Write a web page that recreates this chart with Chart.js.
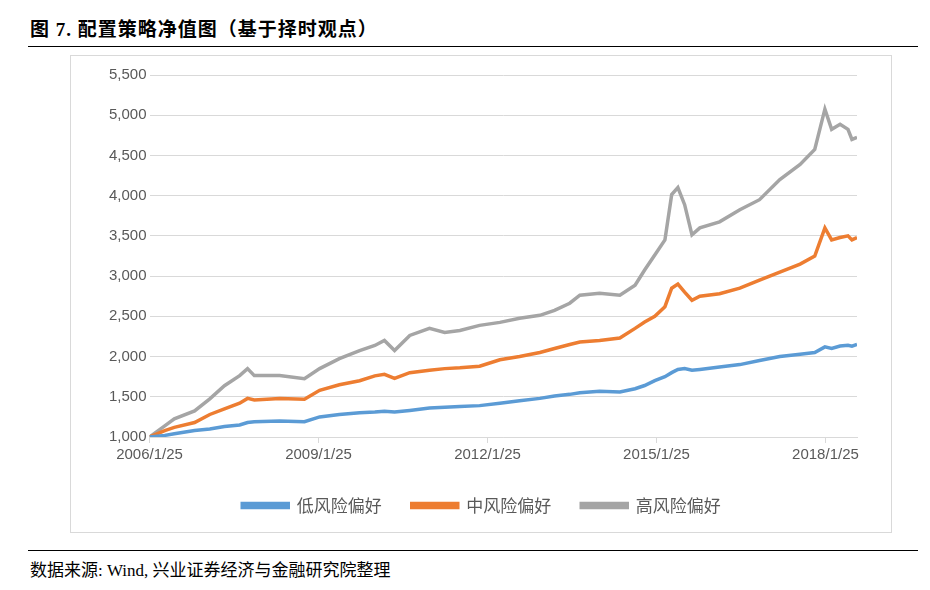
<!DOCTYPE html>
<html>
<head>
<meta charset="utf-8">
<script src="https://cdn.jsdelivr.net/npm/chart.js@4"></script>
<style>
  body { margin: 0; width: 930px; height: 590px; background: #fff; font-family: "Liberation Serif", "Noto Sans CJK SC", serif; }
  #title { position: absolute; left: 30px; top: 14px; font-size: 19px; font-weight: bold; letter-spacing: 1px; }
  #topline { position: absolute; left: 28px; top: 46px; width: 890px; border-top: 1px solid #000; }
  #box { position: absolute; left: 70px; top: 55px; width: 820px; height: 476px; border: 1px solid #d9d9d9; }
  #bottomline { position: absolute; left: 28px; top: 550px; width: 890px; border-top: 1px solid #000; }
  #source { position: absolute; left: 30px; top: 556px; font-size: 17px; }
</style>
</head>
<body>
<div id="title">图 7. 配置策略净值图（基于择时观点）</div>
<div id="topline"></div>
<div id="box"><canvas id="chart" width="820" height="476"></canvas></div>
<div id="bottomline"></div>
<div id="source">数据来源: Wind, 兴业证券经济与金融研究院整理</div>
<script>
// Dates as fractional years
const years = [2006.07, 2006.34, 2006.51, 2006.87, 2007.14, 2007.40, 2007.67, 2007.81, 2007.93, 2008.38,
  2008.82, 2009.09, 2009.44, 2009.80, 2010.07, 2010.24, 2010.42, 2010.69, 2011.04, 2011.31,
  2011.58, 2011.93, 2012.29, 2012.64, 2013.00, 2013.26, 2013.53, 2013.71, 2014.06, 2014.42,
  2014.69, 2014.86, 2015.04, 2015.22, 2015.34, 2015.45, 2015.57, 2015.70, 2015.84, 2016.19,
  2016.55, 2016.90, 2017.26, 2017.62, 2017.88, 2018.06, 2018.18, 2018.33, 2018.47, 2018.54, 2018.63];

const lowRisk = [1000, 1020, 1040, 1080, 1100, 1130, 1150, 1180, 1190, 1200,
  1190, 1250, 1280, 1300, 1310, 1320, 1310, 1330, 1360, 1370,
  1380, 1390, 1420, 1450, 1480, 1510, 1530, 1550, 1570, 1560,
  1600, 1640, 1700, 1750, 1800, 1840, 1850, 1830, 1840, 1870,
  1900, 1950, 2000, 2030, 2050, 2120, 2100, 2130, 2140, 2130, 2150];

const midRisk = [1000, 1080, 1120, 1180, 1280, 1350, 1420, 1480, 1460, 1480,
  1470, 1580, 1650, 1700, 1760, 1780, 1730, 1800, 1830, 1850,
  1860, 1880, 1960, 2000, 2050, 2100, 2150, 2180, 2200, 2230,
  2350, 2430, 2500, 2620, 2850, 2900, 2800, 2700, 2750, 2780,
  2850, 2950, 3050, 3150, 3250, 3600, 3450, 3480, 3500, 3450, 3480];

const highRisk = [1000, 1138, 1225, 1325, 1475, 1638, 1763, 1850, 1763, 1763,
  1725, 1850, 1975, 2075, 2138, 2200, 2075, 2263, 2350, 2300,
  2325, 2388, 2425, 2475, 2513, 2575, 2663, 2763, 2788, 2763,
  2888, 3075, 3263, 3450, 4013, 4100, 3888, 3513, 3600, 3675,
  3825, 3950, 4200, 4388, 4575, 5075, 4825, 4888, 4825, 4700, 4725];

const tickYears = [2006.07, 2009.07, 2012.07, 2015.07, 2018.07];

function toPoints(values) {
  return years.map((y, i) => ({ x: y, y: values[i] }));
}

const chart = new Chart(document.getElementById("chart"), {
  type: "line",
  data: {
    datasets: [
      { label: "低风险偏好", data: toPoints(lowRisk), borderColor: "#5b9bd5", backgroundColor: "#5b9bd5" },
      { label: "中风险偏好", data: toPoints(midRisk), borderColor: "#ed7d31", backgroundColor: "#ed7d31" },
      { label: "高风险偏好", data: toPoints(highRisk), borderColor: "#a5a5a5", backgroundColor: "#a5a5a5" },
    ],
  },
  options: {
    responsive: false,
    animation: false,
    layout: { padding: { left: 35, right: 34, top: 19, bottom: 8 } },
    elements: { point: { radius: 0 }, line: { borderWidth: 3.5, tension: 0 } },
    plugins: {
      legend: {
        position: "bottom",
        labels: { boxWidth: 46, boxHeight: 4, padding: 30, color: "#595959", font: { size: 17, family: "Noto Sans CJK SC" } },
      },
      tooltip: { enabled: false },
    },
    scales: {
      x: {
        type: "linear",
        min: 2006.07,
        max: 2018.63,
        afterBuildTicks: (axis) => { axis.ticks = tickYears.map(v => ({ value: v })); },
        ticks: {
          color: "#595959",
          font: { size: 15, family: "Liberation Sans" },
          maxRotation: 0,
          callback: (v) => Math.round(v - 0.07) + "/1/25",
        },
        grid: { display: true, drawOnChartArea: false, tickLength: 6, color: "#d9d9d9" },
        border: { color: "#d9d9d9" },
      },
      y: {
        min: 1000,
        max: 5500,
        ticks: { stepSize: 500, color: "#595959", font: { size: 15, family: "Liberation Sans" },
          callback: (v) => v.toLocaleString("en-US") },
        grid: { color: "#d9d9d9", drawTicks: false },
        border: { display: false },
      },
    },
  },
});
</script>
</body>
</html>
